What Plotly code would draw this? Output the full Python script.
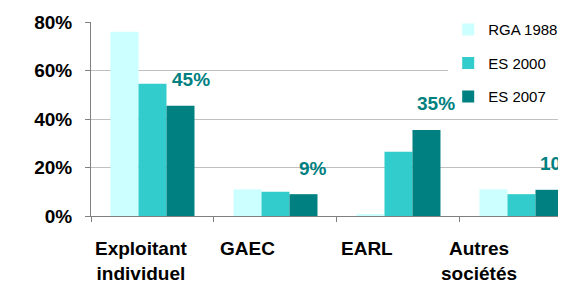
import plotly.graph_objects as go

categories = ["Exploitant individuel", "GAEC", "EARL", "Autres sociétés"]
cat_labels = ["Exploitant<br>individuel", "GAEC", "EARL", "Autres<br>sociétés"]
series_names = ["RGA 1988", "ES 2000", "ES 2007"]
rga_1988 = [76, 11, 0.7, 11]
es_2000 = [54.5, 10, 26.5, 9]
es_2007 = [45.5, 9, 35.5, 10.8]
es_2007_labels = ["45%", "9%", "35%", "10%"]
y_ticks = [0, 20, 40, 60, 80]
y_tick_labels = ["0%", "20%", "40%", "60%", "80%"]

colors = ["#CCFFFF", "#33CCCC", "#008080"]
FONT = "Liberation Sans, Arial, sans-serif"

fig = go.Figure()
for i, (name, vals) in enumerate(zip(series_names, [rga_1988, es_2000, es_2007])):
    fig.add_trace(go.Bar(
        x=categories, y=vals, name=name, marker_color=colors[i],
        marker_line_width=0, legendgroup=name, hoverinfo="skip",
    ))

# category labels (shifted like the original)
label_shift = {"Exploitant individuel": -11, "GAEC": -28, "EARL": -31, "Autres sociétés": -42}
for c, t in zip(categories, cat_labels):
    fig.add_annotation(
        x=c, y=0, xref="x", yref="y", text="<b>" + t + "</b>", showarrow=False,
        yanchor="top", xanchor="center", xshift=label_shift[c], yshift=-20,
        font=dict(family=FONT, size=19, color="#000000"),
    )

# ES 2007 value labels
for c, v, t in zip(categories, es_2007, es_2007_labels):
    fig.add_annotation(
        x=c, y=v, xref="x", yref="y", text="<b>" + t + "</b>", showarrow=False,
        xanchor="center", yanchor="middle", xshift=38, yshift=26,
        font=dict(family=FONT, size=19, color="#008080"),
    )

# page body has an 8px default margin: figure is 558x278 so it ends at the window edge
fig.update_layout(
    width=558, height=278,
    margin=dict(l=83, r=0, t=14, b=70),
    paper_bgcolor="white", plot_bgcolor="white",
    barmode="group", bargap=0.317, bargroupgap=0,
    showlegend=True,
    legend=dict(
        x=0.752, xanchor="left", y=1.045, yanchor="top",
        bgcolor="white", borderwidth=0,
        font=dict(family=FONT, size=15, color="#000000"),
        tracegroupgap=11, traceorder="grouped",
    ),
    xaxis=dict(
        type="category", range=[-0.5, 3.362],
        showticklabels=False, ticks="outside", tickson="boundaries",
        ticklen=5, tickcolor="#808080", tickwidth=1,
        showline=True, linecolor="#808080", linewidth=1,
        showgrid=False, zeroline=False,
    ),
    yaxis=dict(
        range=[0, 80], tickvals=y_ticks, ticktext=y_tick_labels,
        tickfont=dict(family=FONT, size=19, color="#000000", weight="bold"),
        ticks="outside", ticklen=5, tickcolor="#808080",
        ticklabelstandoff=9, automargin=False,
        showline=True, linecolor="#808080", linewidth=1,
        showgrid=True, gridcolor="#C0C0C0", gridwidth=1,
        zeroline=False,
    ),
)

fig.write_html("out.html")
